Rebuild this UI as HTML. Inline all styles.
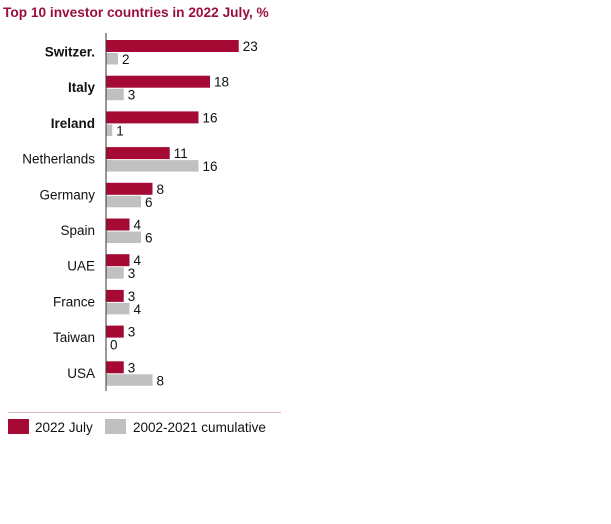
<!DOCTYPE html>
<html><head><style>
body{margin:0;background:#fff;}
svg{display:block;font-family:"Liberation Sans",sans-serif;}
</style></head><body>
<svg width="611" height="524" viewBox="0 0 611 524" xmlns="http://www.w3.org/2000/svg">
<text x="3" y="17" font-size="13.7" font-weight="bold" fill="#9b0f3c">Top 10 investor countries in 2022 July, %</text>
<g fill="#a50a35">
<rect x="106.5" y="40" width="132.25" height="12"/>
<rect x="106.5" y="75.7" width="103.5" height="12"/>
<rect x="106.5" y="111.4" width="92" height="12"/>
<rect x="106.5" y="147.1" width="63.25" height="12"/>
<rect x="106.5" y="182.8" width="46" height="12"/>
<rect x="106.5" y="218.5" width="23" height="12"/>
<rect x="106.5" y="254.2" width="23" height="12"/>
<rect x="106.5" y="289.9" width="17.25" height="12"/>
<rect x="106.5" y="325.6" width="17.25" height="12"/>
<rect x="106.5" y="361.3" width="17.25" height="12"/>
</g>
<g fill="#c0c0c0">
<rect x="106.5" y="53" width="11.5" height="11.5"/>
<rect x="106.5" y="88.7" width="17.25" height="11.5"/>
<rect x="106.5" y="124.4" width="5.75" height="11.5"/>
<rect x="106.5" y="160.1" width="92" height="11.5"/>
<rect x="106.5" y="195.8" width="34.5" height="11.5"/>
<rect x="106.5" y="231.5" width="34.5" height="11.5"/>
<rect x="106.5" y="267.2" width="17.25" height="11.5"/>
<rect x="106.5" y="302.9" width="23" height="11.5"/>
<rect x="106.5" y="374.3" width="46" height="11.5"/>
</g>
<line x1="106" y1="33" x2="106" y2="391" stroke="#333" stroke-width="1"/>
<g font-size="13.5" fill="#111" text-anchor="end">
<text x="95" y="56.5" font-weight="bold">Switzer.</text>
<text x="95" y="92.2" font-weight="bold">Italy</text>
<text x="95" y="127.9" font-weight="bold">Ireland</text>
<text x="95" y="163.6">Netherlands</text>
<text x="95" y="199.3">Germany</text>
<text x="95" y="235">Spain</text>
<text x="95" y="270.7">UAE</text>
<text x="95" y="306.4">France</text>
<text x="95" y="342.1">Taiwan</text>
<text x="95" y="377.8">USA</text>
</g>
<g font-size="13.5" fill="#111">
<text x="242.75" y="51">23</text><text x="122" y="64">2</text>
<text x="214" y="86.7">18</text><text x="127.75" y="99.7">3</text>
<text x="202.5" y="122.4">16</text><text x="116.25" y="135.4">1</text>
<text x="173.75" y="158.1">11</text><text x="202.5" y="171.1">16</text>
<text x="156.5" y="193.8">8</text><text x="145" y="206.8">6</text>
<text x="133.5" y="229.5">4</text><text x="145" y="242.5">6</text>
<text x="133.5" y="265.2">4</text><text x="127.75" y="278.2">3</text>
<text x="127.75" y="300.9">3</text><text x="133.5" y="313.9">4</text>
<text x="127.75" y="336.6">3</text><text x="110" y="349.6">0</text>
<text x="127.75" y="372.3">3</text><text x="156.5" y="385.3">8</text>
</g>
<line x1="8" y1="412.5" x2="281" y2="412.5" stroke="#d9b8c2" stroke-width="1"/>
<rect x="8" y="419" width="21" height="15" fill="#a50a35"/>
<text x="35" y="432" font-size="13.5" fill="#111">2022 July</text>
<rect x="105" y="419" width="21" height="15" fill="#c0c0c0"/>
<text x="133" y="432" font-size="13.5" fill="#111">2002-2021 cumulative</text>
</svg>
</body></html>
